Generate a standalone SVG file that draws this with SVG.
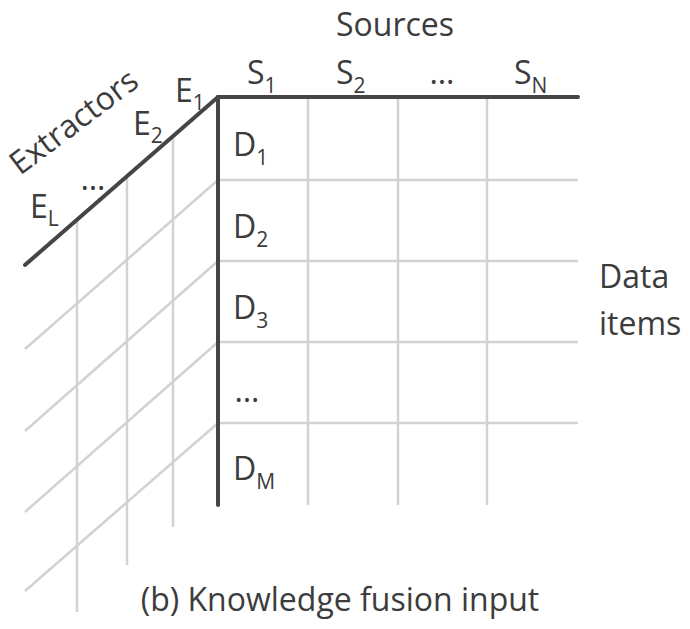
<svg xmlns="http://www.w3.org/2000/svg" width="690" height="629" viewBox="0 0 690 629">
<style>
.thick{stroke:#454545;stroke-width:4;fill:none;stroke-linecap:round}
.thin{stroke:#d2d2d2;stroke-width:2.5;fill:none}
text{font-family:"Open Sans","Noto Sans",sans-serif;fill:#3c3c3c;font-size:32px}
.sub{font-size:21px}
</style>
<rect width="690" height="629" fill="#fff"/>
<g id="grid">
<g id="thin-lines">
<line class="thin" x1="218" y1="180" x2="578" y2="180"/>
<line class="thin" x1="218" y1="261" x2="578" y2="261"/>
<line class="thin" x1="218" y1="342" x2="578" y2="342"/>
<line class="thin" x1="218" y1="423" x2="578" y2="423"/>
<line class="thin" x1="308" y1="97" x2="308" y2="505"/>
<line class="thin" x1="398" y1="97" x2="398" y2="505"/>
<line class="thin" x1="487" y1="97" x2="487" y2="505"/>
<line class="thin" x1="173" y1="136" x2="173" y2="527"/>
<line class="thin" x1="127" y1="176" x2="127" y2="565"/>
<line class="thin" x1="77" y1="220" x2="77" y2="612"/>
<line class="thin" x1="218" y1="180" x2="25" y2="349"/>
<line class="thin" x1="218" y1="261" x2="25" y2="431"/>
<line class="thin" x1="218" y1="342" x2="25" y2="512"/>
<line class="thin" x1="218" y1="423" x2="25" y2="591"/>
</g>
<g id="axes">
<line class="thick" x1="218" y1="97" x2="578" y2="97"/>
<line class="thick" x1="218" y1="97" x2="218" y2="505"/>
<line class="thick" x1="218" y1="97" x2="25" y2="265"/>
</g>
</g>
<g id="sources">
<text x="395" y="36" text-anchor="middle">Sources</text>
<text x="247" y="84">S<tspan class="sub" dy="9">1</tspan></text>
<text x="336" y="84">S<tspan class="sub" dy="9">2</tspan></text>
<text x="442" y="84" text-anchor="middle">…</text>
<text x="514" y="84">S<tspan class="sub" dy="9">N</tspan></text>
</g>
<g id="extractors">
<text transform="translate(20,176) rotate(-37)">Extractors</text>
<text x="175" y="102">E<tspan class="sub" dy="8">1</tspan></text>
<text x="133" y="135">E<tspan class="sub" dy="8">2</tspan></text>
<text x="93" y="190" text-anchor="middle">…</text>
<text x="30" y="218">E<tspan class="sub" dy="8">L</tspan></text>
</g>
<g id="items">
<text x="233" y="156">D<tspan class="sub" dy="9">1</tspan></text>
<text x="233" y="238">D<tspan class="sub" dy="9">2</tspan></text>
<text x="233" y="319">D<tspan class="sub" dy="9">3</tspan></text>
<text x="247" y="402" text-anchor="middle">…</text>
<text x="233" y="480">D<tspan class="sub" dy="9">M</tspan></text>
<text x="599" y="288">Data</text>
<text x="599" y="335">items</text>
</g>
<g id="caption">
<text x="340" y="611" text-anchor="middle">(b) Knowledge fusion input</text>
</g>
</svg>
